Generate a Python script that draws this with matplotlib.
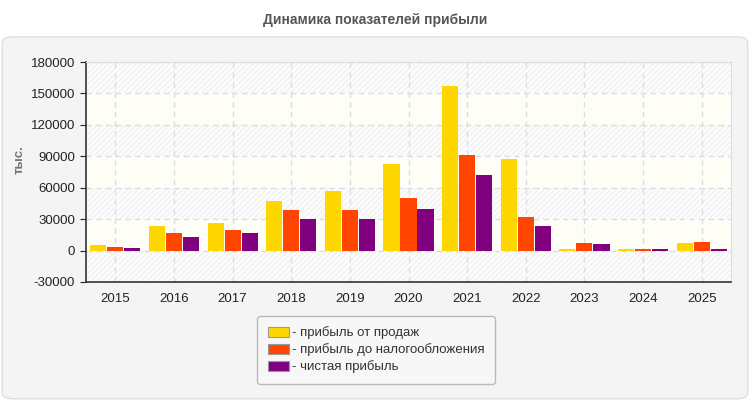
import numpy as np
import matplotlib
matplotlib.use("Agg")
import matplotlib.pyplot as plt
from matplotlib.patches import FancyBboxPatch, Patch

# data (тыс.)
years = ['2015', '2016', '2017', '2018', '2019', '2020', '2021', '2022', '2023', '2024', '2025']
sales_profit = [5700, 23000, 25900, 46900, 56500, 82300, 157000, 87400, 1900, 1900, 7700]
pretax_profit = [3800, 17200, 20100, 38300, 38300, 49800, 91000, 31600, 7700, 1900, 8600]
net_profit = [2900, 13400, 16300, 30600, 29700, 39300, 71800, 23900, 6700, 1900, 1900]

series_names = ['- прибыль от продаж', '- прибыль до налогообложения', '- чистая прибыль']
colors = ['#FFD700', '#FF4500', '#800080']
yticks = [-30000, 0, 30000, 60000, 90000, 120000, 150000, 180000]

plt.rcParams['font.family'] = ['Liberation Sans', 'DejaVu Sans']
plt.rcParams['hatch.linewidth'] = 0.6

fig = plt.figure(figsize=(7.5, 4), dpi=100)
fig.patch.set_facecolor('white')

# rounded panel behind the chart
panel = FancyBboxPatch((0.003, 0.003), 0.994, 0.905, boxstyle='round,pad=0,rounding_size=0.015',
                       transform=fig.transFigure, facecolor='#f4f4f4', edgecolor='#dedede',
                       linewidth=1, zorder=-10)
fig.patches.append(panel)

fig.text(0.5, 0.95, 'Динамика показателей прибыли', ha='center', va='center',
         fontsize=10, fontweight='bold', color='#555555')

ax = fig.add_axes([0.1147, 0.295, 0.86, 0.55])
ax.set_facecolor('white')

# alternating bands: hatched / plain light yellow
for lo, hi in zip(yticks[:-1], yticks[1:]):
    if lo in (0, 60000, 120000):
        ax.axhspan(lo, hi, facecolor='#fefef7', edgecolor='none', zorder=0)
    else:
        ax.axhspan(lo, hi, facecolor='#fcfcfc', edgecolor='#ececec', hatch='//////',
                   linewidth=0, zorder=0)

x = np.arange(len(years))
w = 0.275
step = 0.29
for i, (vals, c) in enumerate(zip([sales_profit, pretax_profit, net_profit], colors)):
    ax.bar(x + (i - 1) * step, vals, width=w, color=c, zorder=3)

ax.set_xlim(-0.5, len(years) - 0.5)
ax.set_ylim(-30000, 180000)
ax.set_yticks(yticks)
ax.set_yticklabels([str(v) for v in yticks])
ax.set_xticks(x)
ax.set_xticklabels(years)
ax.tick_params(axis='both', labelsize=9.5, colors='#222222', length=4, direction='in')
ax.tick_params(axis='x', direction='out', length=0, pad=8)
ax.tick_params(axis='y', direction='out', pad=4)

ax.grid(True, color='#dedede', linestyle=(0, (4, 3)), linewidth=1, zorder=1)
ax.set_axisbelow(True)
for s in ['top', 'right']:
    ax.spines[s].set_color('#dddddd')
for s in ['left', 'bottom']:
    ax.spines[s].set_color('#333333')
    ax.spines[s].set_linewidth(1.2)

fig.text(0.026, 0.6, 'тыс.', rotation=90, ha='center', va='center',
         fontsize=9.5, fontweight='bold', color='#777777')

handles = [Patch(facecolor=c, edgecolor='#999999', linewidth=0.8) for c in colors]
leg = fig.legend(handles, series_names, loc='upper left', bbox_to_anchor=(0.343, 0.21),
                 fontsize=9.5, frameon=True, fancybox=True, handlelength=1.6, handleheight=0.8,
                 handletextpad=0.2, labelspacing=0.3, borderpad=0.8, borderaxespad=0)
leg.get_frame().set_facecolor('#f9f9f9')
leg.get_frame().set_edgecolor('#aaaaaa')
for t in leg.get_texts():
    t.set_color('#333333')

fig.savefig('out.png', dpi=100)
